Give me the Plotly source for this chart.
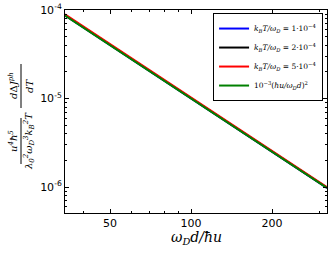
import math
import plotly.graph_objects as go

# data
x_vals = [34, 50, 70, 100, 150, 200, 250, 320]
y_blue = [8.70e-5, 4.02e-5, 2.05e-5, 1.005e-5, 4.47e-6, 2.51e-6, 1.61e-6, 9.8e-7]
y_black = [8.75e-5, 4.04e-5, 2.06e-5, 1.01e-5, 4.49e-6, 2.52e-6, 1.62e-6, 9.85e-7]
y_red = [8.95e-5, 4.12e-5, 2.10e-5, 1.03e-5, 4.57e-6, 2.57e-6, 1.64e-6, 1.0e-6]
y_green = [8.65e-5, 4.0e-5, 2.04e-5, 1.0e-5, 4.44e-6, 2.5e-6, 1.6e-6, 9.77e-7]
labels = [
    "<i>k<sub>B</sub>T/ω<sub>D</sub></i> = 1·10<sup>−4</sup>",
    "<i>k<sub>B</sub>T/ω<sub>D</sub></i> = 2·10<sup>−4</sup>",
    "<i>k<sub>B</sub>T/ω<sub>D</sub></i> = 5·10<sup>−4</sup>",
    "10<sup>−3</sup>(<i>ħu/ω<sub>D</sub>d</i>)<sup>2</sup>",
]
colors = ["#0000ff", "#000000", "#ff0000", "#008000"]
x_range = [34, 320]
y_range = [5.1e-7, 1e-4]
y_ticks = [1e-6, 1e-5, 1e-4]
y_ticktext = ["10<sup>-6</sup>", "10<sup>-5</sup>", "10<sup>-4</sup>"]
x_ticks = [50, 100, 200]
x_ticktext = ["50", "100", "200"]

W, H = 332, 253
L, R, T, B = 65, 5, 10, 40
pw = W - L - R
ph = H - T - B

def px(xp):
    return (xp - L) / pw

def py(yp):
    return 1 - (yp - T) / ph

fig = go.Figure()
for ys, lab, c in zip([y_blue, y_black, y_red, y_green], labels, colors):
    fig.add_trace(go.Scatter(x=x_vals, y=ys, mode="lines", name=lab,
                             line=dict(color=c, width=2)))

font = "DejaVu Sans, Liberation Sans, sans-serif"
serif = "DejaVu Serif, Liberation Serif, serif"
axis_common = dict(showline=True, linecolor="black", linewidth=1, mirror="allticks",
                   ticks="inside", ticklen=4, tickcolor="black", showgrid=False,
                   zeroline=False, automargin=False,
                   tickfont=dict(family=font, size=11, color="black"))
fig.update_xaxes(type="log", range=[math.log10(v) for v in x_range],
                 tickvals=x_ticks, ticktext=x_ticktext, ticklabelstandoff=0,
                 minor=dict(ticks="inside", ticklen=2, tickcolor="black",
                            tickvals=[40, 60, 70, 80, 90, 300], showgrid=False),
                 **axis_common)
fig.update_yaxes(type="log", range=[math.log10(v) for v in y_range],
                 tickvals=y_ticks, ticktext=y_ticktext,
                 minor=dict(ticks="inside", ticklen=2, tickcolor="black",
                            tickvals=[k * 10 ** e for e in (-7, -6, -5) for k in range(2, 10)],
                            showgrid=False),
                 **axis_common)

# x axis title
fig.add_annotation(text="<i>ω<sub>D</sub>d/ħu</i>", xref="paper", yref="paper",
                   x=0.5, y=py(238), showarrow=False, yanchor="middle",
                   font=dict(family=serif, size=14, color="black"))

# y axis title as two stacked fractions (rotated)
ann_font = dict(family=serif, size=10, color="black")
for text, xp, yp in [
    ("<i>u<sup>4</sup>ħ<sup>5</sup></i>", 13, 141),
    ("<i>λ<sub>0</sub><sup>2</sup>ω<sub>D</sub><sup>3</sup>k<sub>B</sub><sup>2</sup>T</i>", 29, 141),
    ("<i>d</i>Δ<i>J<sup>ph</sup></i>", 13, 86),
    ("<i>dT</i>", 29, 86),
]:
    fig.add_annotation(text=text, xref="paper", yref="paper", x=px(xp), y=py(yp),
                       textangle=-90, showarrow=False, font=ann_font,
                       xanchor="center", yanchor="middle")
for y0, y1 in [(118, 164), (64, 108)]:
    fig.add_shape(type="line", xref="paper", yref="paper",
                  x0=px(21), x1=px(21), y0=py(y0), y1=py(y1),
                  line=dict(color="black", width=1))

fig.update_layout(
    width=W, height=H,
    margin=dict(l=L, r=R, t=T, b=B, autoexpand=False),
    paper_bgcolor="white", plot_bgcolor="white",
    showlegend=True,
    legend=dict(x=0.985, y=0.985, xanchor="right", yanchor="top",
                bgcolor="white", bordercolor="black", borderwidth=1,
                font=dict(family=serif, size=7.5, color="black"),
                tracegroupgap=0, itemwidth=30),
)

fig.write_html("out.html", config={"displayModeBar": False},
               post_script="document.body.style.margin='0';")
